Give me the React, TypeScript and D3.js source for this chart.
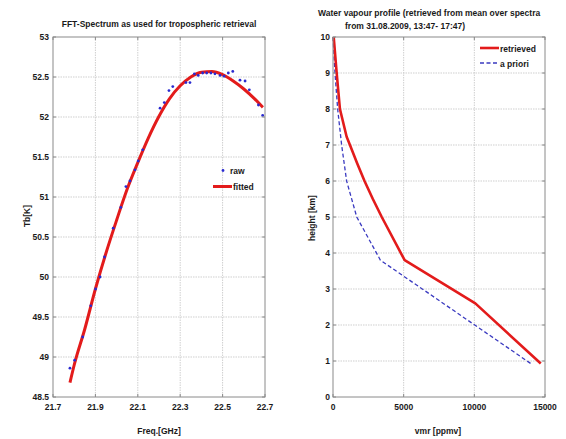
import React from "react";
import * as d3 from "d3";

// Left panel: FFT spectrum
const rawFreq = [21.780, 21.802, 21.840, 21.878, 21.901, 21.922, 21.943, 21.984, 22.020, 22.044, 22.063, 22.087, 22.102, 22.123, 22.205, 22.225, 22.247, 22.265, 22.327, 22.346, 22.367, 22.385, 22.406, 22.425, 22.445, 22.464, 22.488, 22.507, 22.527, 22.548, 22.582, 22.606, 22.626, 22.669, 22.689];
const rawTb = [48.86, 48.96, 49.25, 49.64, 49.85, 50.00, 50.25, 50.61, 50.87, 51.13, 51.20, 51.34, 51.45, 51.59, 52.11, 52.18, 52.33, 52.38, 52.43, 52.43, 52.54, 52.52, 52.55, 52.55, 52.55, 52.54, 52.52, 52.51, 52.55, 52.57, 52.46, 52.45, 52.34, 52.15, 52.02];
const fitFreq = [21.78, 21.80, 21.85, 21.90, 21.95, 22.00, 22.05, 22.10, 22.15, 22.20, 22.25, 22.30, 22.35, 22.40, 22.45, 22.50, 22.55, 22.60, 22.65, 22.69];
const fitTb = [48.68, 48.90, 49.35, 49.85, 50.30, 50.71, 51.10, 51.43, 51.74, 52.01, 52.23, 52.39, 52.50, 52.56, 52.57, 52.53, 52.45, 52.35, 52.23, 52.12];
const freqTicks = [21.7, 21.9, 22.1, 22.3, 22.5, 22.7];
const tbTicks = [48.5, 49, 49.5, 50, 50.5, 51, 51.5, 52, 52.5, 53];

// Right panel: water vapour profile
const retVmr = [50, 260, 490, 965, 1200, 1700, 2230, 2820, 3450, 5070, 10070, 14700];
const retHeight = [10, 9, 8, 7.23, 7, 6.5, 6, 5.5, 5, 3.8, 2.6, 0.93];
const aprVmr = [0, 140, 330, 610, 965, 1680, 3357, 13990];
const aprHeight = [10, 9, 8, 7, 6, 5, 3.8, 0.93];
const vmrTicks = [0, 5000, 10000, 15000];
const heightTicks = [0, 1, 2, 3, 4, 5, 6, 7, 8, 9, 10];

const FONT = "'Liberation Sans', Arial, sans-serif";
const TXT = "#1a1a1a";
const AX = "#8a8a8a";
const GRID = "#cfcfcf";

function fmt(v: number) {
  return String(v);
}

export default function App() {
  const W = 566, H = 439;
  const L = { x0: 53, x1: 265, y0: 37, y1: 397 };
  const R = { x0: 333, x1: 545, y0: 37, y1: 397 };

  const lx = d3.scaleLinear().domain([21.7, 22.7]).range([L.x0, L.x1]);
  const ly = d3.scaleLinear().domain([48.5, 53]).range([L.y1, L.y0]);
  const rx = d3.scaleLinear().domain([0, 15000]).range([R.x0, R.x1]);
  const ry = d3.scaleLinear().domain([0, 10]).range([R.y1, R.y0]);

  const fitLine = d3.line<number>().x((d, i) => lx(fitFreq[i])).y((d) => ly(d)).curve(d3.curveMonotoneX)(fitTb) || "";
  const retLine = d3.line<number>().x((d) => rx(d)).y((d, i) => ry(retHeight[i]))(retVmr) || "";
  const aprLine = d3.line<number>().x((d) => rx(d)).y((d, i) => ry(aprHeight[i]))(aprVmr) || "";

  const tk = 3;

  const panelFrame = (P: any, xs: any, ys: any, xt: number[], yt: number[]) => (
    <g>
      {xt.slice(1, -1).map((t) => (
        <line key={"gx" + t} x1={xs(t)} x2={xs(t)} y1={P.y0} y2={P.y1} stroke={GRID} strokeWidth={1} strokeDasharray="1.5,1" />
      ))}
      {yt.slice(1, -1).map((t) => (
        <line key={"gy" + t} x1={P.x0} x2={P.x1} y1={ys(t)} y2={ys(t)} stroke={GRID} strokeWidth={1} strokeDasharray="1.5,1" />
      ))}
    </g>
  );

  const panelAxes = (P: any, xs: any, ys: any, xt: number[], yt: number[], yLabelX: number, xLabelY: number) => (
    <g>
      <rect x={P.x0} y={P.y0} width={P.x1 - P.x0} height={P.y1 - P.y0} fill="none" stroke={AX} strokeWidth={1} />
      {xt.map((t) => (
        <g key={"tx" + t}>
          <line x1={xs(t)} x2={xs(t)} y1={P.y1} y2={P.y1 - tk} stroke={AX} />
          <line x1={xs(t)} x2={xs(t)} y1={P.y0} y2={P.y0 + tk} stroke={AX} />
          <text x={xs(t)} y={xLabelY} textAnchor="middle" fontFamily={FONT} fontWeight="bold" fontSize={8.5} fill={TXT}>{fmt(t)}</text>
        </g>
      ))}
      {yt.map((t) => (
        <g key={"ty" + t}>
          <line x1={P.x0} x2={P.x0 + tk} y1={ys(t)} y2={ys(t)} stroke={AX} />
          <line x1={P.x1} x2={P.x1 - tk} y1={ys(t)} y2={ys(t)} stroke={AX} />
          <text x={yLabelX} y={ys(t) + 3} textAnchor="end" fontFamily={FONT} fontWeight="bold" fontSize={8.5} fill={TXT}>{fmt(t)}</text>
        </g>
      ))}
    </g>
  );

  return (
    <svg width={W} height={H} style={{ position: "absolute", left: 0, top: 0, background: "#fff" }}>
      <rect x={0} y={0} width={W} height={H} fill="#fff" />
      {/* Left panel */}
      {panelFrame(L, lx, ly, freqTicks, tbTicks)}
      <path d={fitLine} fill="none" stroke="#e31b1b" strokeWidth={3} strokeLinejoin="round" />
      {rawFreq.map((f, i) => (
        <circle key={"r" + i} cx={lx(f)} cy={ly(rawTb[i])} r={1.4} fill="#2a2ad0" />
      ))}
      {panelAxes(L, lx, ly, freqTicks, tbTicks, 49, 410)}
      <text x={159} y={27} textAnchor="middle" fontFamily={FONT} fontWeight="bold" fontSize={8.5} fill={TXT}>FFT-Spectrum as used for tropospheric retrieval</text>
      <text x={159} y={434} textAnchor="middle" fontFamily={FONT} fontWeight="bold" fontSize={8.5} fill={TXT}>Freq.[GHz]</text>
      <text transform="translate(30,216) rotate(-90)" textAnchor="middle" fontFamily={FONT} fontWeight="bold" fontSize={8.5} fill={TXT}>Tb[K]</text>
      {/* left legend */}
      <circle cx={223} cy={170.5} r={1.4} fill="#2a2ad0" />
      <text x={230} y={174} fontFamily={FONT} fontWeight="bold" fontSize={8.5} fill={TXT}>raw</text>
      <line x1={213} x2={232} y1={186.5} y2={186.5} stroke="#e31b1b" strokeWidth={3} />
      <text x={233} y={190} fontFamily={FONT} fontWeight="bold" fontSize={8.5} fill={TXT}>fitted</text>

      {/* Right panel */}
      {panelFrame(R, rx, ry, vmrTicks, heightTicks)}
      <path d={aprLine} fill="none" stroke="#3a3ac0" strokeWidth={1.3} strokeDasharray="4,2.5" />
      <path d={retLine} fill="none" stroke="#e31b1b" strokeWidth={2.6} strokeLinejoin="round" />
      {panelAxes(R, rx, ry, vmrTicks, heightTicks, 330, 410)}
      <text x={318} y={16} fontFamily={FONT} fontWeight="bold" fontSize={8.5} fill={TXT}>Water vapour profile (retrieved from mean over spectra</text>
      <text x={345} y={29} fontFamily={FONT} fontWeight="bold" fontSize={8.5} fill={TXT}>from 31.08.2009, 13:47- 17:47)</text>
      <text x={438} y={434} textAnchor="middle" fontFamily={FONT} fontWeight="bold" fontSize={8.5} fill={TXT}>vmr [ppmv]</text>
      <text transform="translate(315,218) rotate(-90)" textAnchor="middle" fontFamily={FONT} fontWeight="bold" fontSize={8.5} fill={TXT}>height [km]</text>
      {/* right legend */}
      <line x1={480} x2={499} y1={48} y2={48} stroke="#e31b1b" strokeWidth={2.6} />
      <text x={500} y={51.5} fontFamily={FONT} fontWeight="bold" fontSize={8.5} fill={TXT}>retrieved</text>
      <line x1={480} x2={499} y1={63} y2={63} stroke="#3a3ac0" strokeWidth={1.3} strokeDasharray="4,2.5" />
      <text x={500} y={66.5} fontFamily={FONT} fontWeight="bold" fontSize={8.5} fill={TXT}>a priori</text>
    </svg>
  );
}
